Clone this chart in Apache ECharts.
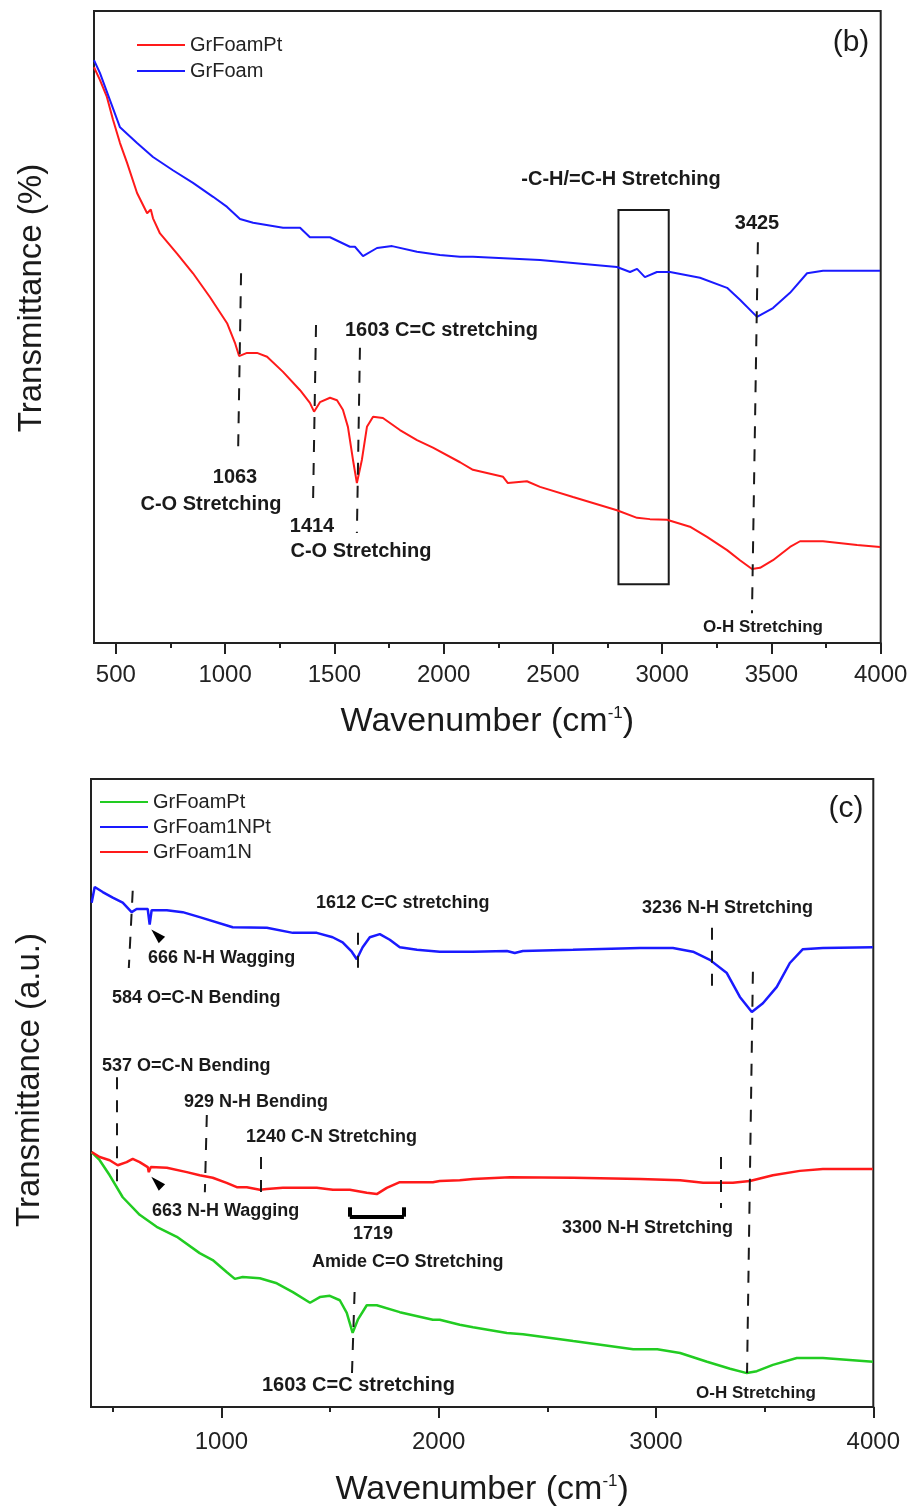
<!DOCTYPE html>
<html><head><meta charset="utf-8">
<script src="https://cdn.jsdelivr.net/npm/echarts@6/dist/echarts.min.js"></script>
<style>html,body{margin:0;padding:0;background:#fff}#c{width:917px;height:1508px}</style>
</head><body><div id="c"></div>
<script>
// ---------- tick values ----------
const xMajorB = [500,1000,1500,2000,2500,3000,3500,4000];
const xMinorB = [750,1250,1750,2250,2750,3250,3750];
const xMajorC = [1000,2000,3000,4000];
const xMinorC = [500,1500,2500,3500];

// ---------- panel (b) series: [wavenumber, transmittance (arb. 0-100)] ----------
const bGrFoamPt = [[400,91.1],[427,89.1],[459,86.4],[487,82.8],[519,79.1],[551,76.0],[597,71.2],[643,68.0],[660,68.6],[670,67.2],[702,64.8],[780,61.6],[853,58.5],[931,54.7],[1009,50.6],[1045,47.5],[1064,45.4],[1100,45.9],[1146,45.9],[1192,45.3],[1265,42.9],[1343,40.0],[1388,38.0],[1407,36.6],[1434,38.1],[1480,38.8],[1512,38.4],[1539,36.9],[1562,34.2],[1585,29.0],[1603,25.3],[1626,29.0],[1649,34.2],[1677,35.8],[1722,35.6],[1800,33.7],[1878,32.1],[1951,30.9],[2075,28.6],[2134,27.4],[2272,26.3],[2294,25.3],[2381,25.6],[2441,24.7],[2592,23.1],[2793,21.0],[2885,19.8],[2944,19.6],[3022,19.5],[3127,18.4],[3205,16.8],[3297,14.7],[3356,13.1],[3411,11.7],[3448,11.9],[3507,13.1],[3585,15.2],[3631,16.1],[3736,16.1],[3892,15.5],[3997,15.2]];
const bGrFoam = [[400,92.2],[427,90.2],[473,85.9],[519,81.6],[597,79.1],[670,76.9],[761,74.8],[853,72.8],[945,70.6],[1009,69.0],[1068,67.1],[1128,66.5],[1265,65.7],[1343,65.7],[1388,64.2],[1480,64.2],[1571,62.7],[1594,62.7],[1631,61.2],[1695,62.5],[1764,62.8],[1878,61.9],[1983,61.4],[2075,61.1],[2134,61.1],[2441,60.6],[2793,59.5],[2853,58.7],[2885,59.2],[2921,57.9],[2976,58.7],[3036,58.7],[3173,57.8],[3297,56.2],[3356,54.3],[3434,51.6],[3507,53.0],[3585,55.4],[3663,58.5],[3736,58.9],[3997,58.9]];

// ---------- panel (c) series ----------
const cGrFoamPt = [[403,40.6],[440,39.3],[486,36.9],[546,33.4],[624,30.6],[702,28.7],[795,27.1],[900,24.5],[960,23.4],[1024,21.5],[1062,20.4],[1098,20.7],[1177,20.5],[1255,19.7],[1329,18.3],[1408,16.6],[1453,17.5],[1499,17.7],[1545,17.0],[1577,15.0],[1604,11.8],[1628,13.9],[1669,16.2],[1715,16.2],[1821,15.1],[1973,13.9],[2005,13.9],[2097,13.1],[2158,12.7],[2314,11.8],[2388,11.6],[2619,10.5],[2895,9.2],[3006,9.2],[3111,8.6],[3235,7.2],[3341,6.1],[3418,5.4],[3464,5.7],[3538,6.7],[3648,7.8],[3768,7.8],[3998,7.2]];
const cGrFoam1NPt = [[403,80.3],[417,82.8],[454,82.0],[500,81.1],[546,80.3],[587,78.8],[610,79.3],[661,79.3],[670,76.8],[679,79.1],[749,79.1],[822,78.8],[900,78.0],[1052,76.4],[1209,76.3],[1329,75.5],[1439,75.5],[1512,74.8],[1558,74.0],[1600,72.5],[1623,71.3],[1650,73.2],[1683,74.8],[1729,75.3],[1775,74.4],[1821,73.2],[1900,72.8],[2005,72.5],[2098,72.5],[2157,72.5],[2314,72.6],[2350,72.3],[2387,72.6],[2618,72.8],[2926,73.1],[3078,73.1],[3170,72.5],[3248,71.2],[3326,69.1],[3386,65.3],[3441,62.9],[3492,64.3],[3556,66.9],[3616,70.7],[3676,72.9],[3768,73.1],[3998,73.2]];
const cGrFoam1N = [[403,40.6],[440,39.8],[486,39.3],[523,38.5],[564,39.0],[592,39.5],[624,39.0],[661,38.2],[666,37.4],[675,38.2],[749,38.1],[841,37.4],[900,36.9],[960,36.5],[1024,35.7],[1071,35.0],[1117,35.0],[1177,34.6],[1209,34.7],[1283,34.9],[1361,34.9],[1439,34.9],[1513,34.6],[1591,34.6],[1669,34.1],[1715,33.9],[1761,34.9],[1821,35.8],[1973,35.8],[2005,36.0],[2097,36.1],[2158,36.3],[2328,36.6],[2619,36.5],[2927,36.3],[3111,36.1],[3217,35.7],[3295,35.7],[3354,35.7],[3432,36.0],[3538,36.9],[3662,37.6],[3768,37.9],[3998,37.9]];

// ---------- annotation guide lines [[x1,y1],[x2,y2]] ----------
const bGuides = [[[1073,58.5],[1059,29.4]],[[1416,50.3],[1402,21.5]],[[1617,46.7],[1603,17.4]],[[3438,63.4],[3411,4.7]]];
const bBox = [[2800,68.5],[3030,9.3]];
const cGuides = [[[1628,75.5],[1628,68.3]],[[592,82.2],[574,69.9]],[[3257,76.3],[3257,66.7]],[[3446,69.3],[3419,5.4]],[[518,52.5],[518,35.7]],[[933,46.5],[924,34.2]],[[1181,39.8],[1181,34.1]],[[3299,39.8],[3299,31.7]],[[1613,18.3],[1600,4.3]]];
const cBracket = [[1591,31.8],[1591,30.3],[1840,30.3],[1840,31.8]];
const cArrows = [[702,75.2],[702,35.8]];

const FF = "'Liberation Sans', Arial, Helvetica, sans-serif";
const INK = '#1a1a1a';

function xAxes(gi, major, minor, labelMargin, nameGap) {
  return [{
    type:'value', gridIndex:gi, min:400, max:4000, position:'bottom',
    name:'{t|Wavenumber (cm}{s|-1}{t|)}', nameLocation:'middle', nameGap:nameGap,
    nameTextStyle:{rich:{t:{fontSize:34,color:INK,fontFamily:FF},s:{fontSize:17,color:INK,fontFamily:FF,verticalAlign:'top'}}},
    axisLine:{show:true,lineStyle:{color:'#222',width:2}},
    axisTick:{show:true,customValues:major,length:11,inside:false,lineStyle:{color:'#222',width:2}},
    axisLabel:{show:true,customValues:major,fontSize:24,color:'#222',fontFamily:FF,margin:labelMargin,formatter:v=>String(v)},
    splitLine:{show:false}
  },{
    type:'value', gridIndex:gi, min:400, max:4000, position:'bottom',
    axisLine:{show:false},
    axisTick:{show:true,customValues:minor,length:5,inside:false,lineStyle:{color:'#222',width:2}},
    axisLabel:{show:false}, splitLine:{show:false}
  }];
}
function yAxis(gi){
  return {type:'value',gridIndex:gi,min:0,max:100,axisLine:{show:false},axisTick:{show:false},axisLabel:{show:false},splitLine:{show:false}};
}
function guideLines(list){
  return list.map(s=>[{coord:s[0]},{coord:s[1]}]);
}
function txt(x,y,text,size,align,bold){
  return {type:'text',x:x,y:y,z:100,style:{text:text,fontSize:size,fontWeight:bold?'bold':'normal',fontFamily:FF,fill:INK,
    align:align,textAlign:align,verticalAlign:'middle',textVerticalAlign:'middle'}};
}

const chart = echarts.init(document.getElementById('c'), null, {renderer:'canvas'});
const dashStyle = {type:[12,11],color:INK,width:2};

const bracketSegs = [];
for (let i=0;i<cBracket.length-1;i++) bracketSegs.push([{coord:cBracket[i]},{coord:cBracket[i+1]}]);

const RED='#ff1a1a', BLUE='#1a1aff', GREEN='#22cc22';

chart.setOption({
  animation:false,
  backgroundColor:'#fff',
  grid:[
    {left:94,top:11,width:786.7,height:632,show:true,borderColor:'#222',borderWidth:2,backgroundColor:'transparent'},
    {left:91,top:779,width:782.3,height:628,show:true,borderColor:'#222',borderWidth:2,backgroundColor:'transparent'}
  ],
  xAxis:[...xAxes(0,xMajorB,xMinorB,20,62), ...xAxes(1,xMajorC,xMinorC,23,66)],
  yAxis:[yAxis(0),yAxis(1)],
  legend:[{
    orient:'vertical',left:137,top:35,padding:0,icon:'rect',itemWidth:48,itemHeight:2,itemGap:6,selectedMode:false,
    textStyle:{fontSize:20,color:'#222',fontFamily:FF,lineHeight:20},
    data:[{name:'GrFoamPt',itemStyle:{color:RED}},{name:'GrFoam',itemStyle:{color:BLUE}}]
  },{
    orient:'vertical',left:100,top:792,padding:0,icon:'rect',itemWidth:48,itemHeight:2,itemGap:5,selectedMode:false,
    textStyle:{fontSize:20,color:'#222',fontFamily:FF,lineHeight:20},
    data:[{name:'GrFoamPt',itemStyle:{color:GREEN}},{name:'GrFoam1NPt',itemStyle:{color:BLUE}},{name:'GrFoam1N',itemStyle:{color:RED}}]
  }],
  series:[
    {name:'GrFoamPt',type:'line',xAxisIndex:0,yAxisIndex:0,data:bGrFoamPt,symbol:'none',lineStyle:{color:RED,width:2},itemStyle:{color:RED},
      markLine:{silent:true,symbol:['none','none'],label:{show:false},lineStyle:dashStyle,data:guideLines(bGuides)},
      markArea:{silent:true,itemStyle:{color:'rgba(0,0,0,0)',borderColor:INK,borderWidth:2},label:{show:false},data:[[{coord:bBox[0]},{coord:bBox[1]}]]}},
    {name:'GrFoam',type:'line',xAxisIndex:0,yAxisIndex:0,data:bGrFoam,symbol:'none',lineStyle:{color:BLUE,width:2},itemStyle:{color:BLUE}},
    {name:'GrFoamPt',type:'line',xAxisIndex:2,yAxisIndex:1,data:cGrFoamPt,symbol:'none',lineStyle:{color:GREEN,width:2.5},itemStyle:{color:GREEN},
      markLine:{silent:true,symbol:['none','none'],label:{show:false},lineStyle:dashStyle,data:guideLines(cGuides)}},
    {name:'GrFoam1NPt',type:'line',xAxisIndex:2,yAxisIndex:1,data:cGrFoam1NPt,symbol:'none',lineStyle:{color:BLUE,width:2.5},itemStyle:{color:BLUE},
      markPoint:{silent:true,symbol:'triangle',symbolSize:[9,15],symbolRotate:45,itemStyle:{color:'#000'},label:{show:false},
        data:cArrows.map(p=>({coord:p}))}},
    {name:'GrFoam1N',type:'line',xAxisIndex:2,yAxisIndex:1,data:cGrFoam1N,symbol:'none',lineStyle:{color:RED,width:2.5},itemStyle:{color:RED},
      markLine:{silent:true,symbol:['none','none'],label:{show:false},lineStyle:{type:'solid',color:'#000',width:4},data:bracketSegs}}
  ],
  graphic:{elements:[
    Object.assign(txt(32,298,'Transmittance (%)',33,'center',false),{rotation:Math.PI/2}),
    Object.assign(txt(30,1080,'Transmittance (a.u.)',33,'center',false),{rotation:Math.PI/2}),
    txt(851,43,'(b)',30,'center',false),
    txt(846,809,'(c)',30,'center',false),
    // panel b annotations
    txt(621,179,'-C-H/=C-H Stretching',20,'center',true),
    txt(757,223,'3425',20,'center',true),
    txt(763,627,'O-H Stretching',17,'center',true),
    txt(345,330,'1603 C=C stretching',20,'left',true),
    txt(235,477,'1063',20,'center',true),
    txt(211,504,'C-O Stretching',20,'center',true),
    txt(312,526,'1414',20,'center',true),
    txt(361,551,'C-O Stretching',20,'center',true),
    // panel c annotations
    txt(316,903,'1612 C=C stretching',18,'left',true),
    txt(148,958,'666 N-H Wagging',18,'left',true),
    txt(112,998,'584 O=C-N Bending',18,'left',true),
    txt(102,1066,'537 O=C-N Bending',18,'left',true),
    txt(184,1102,'929 N-H Bending',18,'left',true),
    txt(246,1137,'1240 C-N Stretching',18,'left',true),
    txt(152,1211,'663 N-H Wagging',18,'left',true),
    txt(373,1234,'1719',18,'center',true),
    txt(312,1262,'Amide C=O Stretching',18,'left',true),
    txt(262,1385,'1603 C=C stretching',20,'left',true),
    txt(642,908,'3236 N-H Stretching',18,'left',true),
    txt(562,1228,'3300 N-H Stretching',18,'left',true),
    txt(696,1393,'O-H Stretching',17,'left',true)
  ]}
});
</script></body></html>
